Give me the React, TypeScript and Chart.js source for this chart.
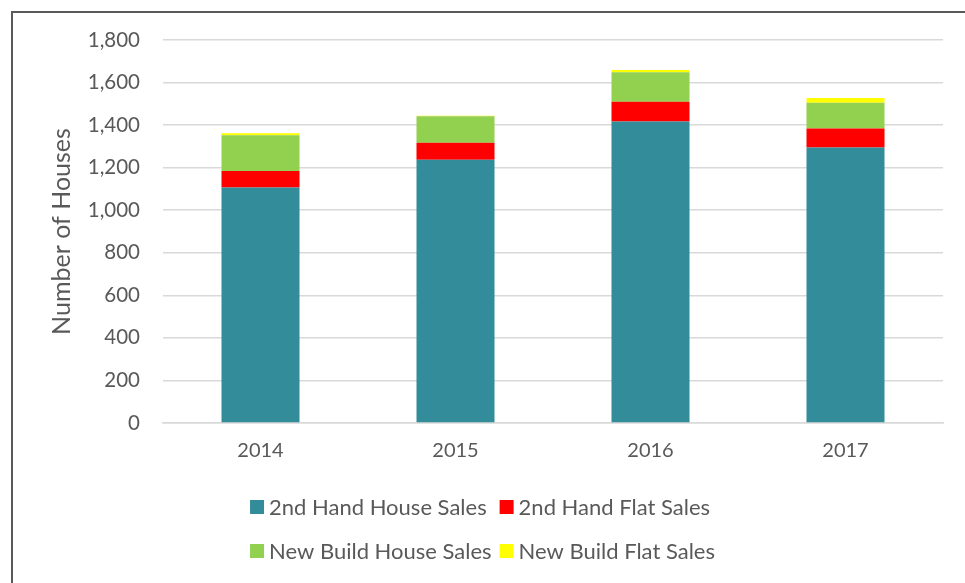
import React, { useEffect, useRef } from "react";
import { Chart, registerables } from "chart.js";

Chart.register(...registerables);

const categories = ["2014", "2015", "2016", "2017"];
const secondHandHouse = [1107, 1237, 1417, 1295];
const secondHandFlat = [77, 80, 93, 89];
const newBuildHouse = [168, 125, 139, 121];
const newBuildFlat = [10, 2, 10, 22];
const seriesNames = [
  "2nd Hand House Sales",
  "2nd Hand Flat Sales",
  "New Build House Sales",
  "New Build Flat Sales",
];
const seriesColors = ["#338c99", "#ff0000", "#92d050", "#ffff00"];

const FONT = "Lato, 'Open Sans', sans-serif";
const TEXT = "#595959";

const gridLegend = {
  id: "gridLegend",
  afterDraw(chart: any) {
    const ctx = chart.ctx;
    const ds = chart.data.datasets;
    ctx.save();
    ctx.font = `22px ${FONT}`;
    ctx.textBaseline = "middle";
    ctx.textAlign = "left";
    const box = 14;
    const gapText = 5;
    const colGap = 8;
    const w = ds.map((d: any) => box + gapText + ctx.measureText(d.label).width);
    const col1 = Math.max(w[0], w[2]);
    const col2 = Math.max(w[1], w[3]);
    const total = col1 + colGap + col2;
    const startX = chart.width / 2 - total / 2;
    const rowsY = [chart.chartArea.bottom + 84, chart.chartArea.bottom + 128];
    ds.forEach((d: any, i: number) => {
      const row = Math.floor(i / 2);
      const col = i % 2;
      const x = col === 0 ? startX : startX + col1 + colGap;
      const y = rowsY[row];
      ctx.fillStyle = d.backgroundColor;
      ctx.fillRect(x, y - box / 2, box, box);
      ctx.fillStyle = TEXT;
      ctx.fillText(d.label, x + box + gapText, y + 1);
    });
    ctx.restore();
  },
};

export default function App() {
  const canvasRef = useRef<HTMLCanvasElement | null>(null);

  useEffect(() => {
    document.body.style.margin = "0";
    const canvas = canvasRef.current;
    if (!canvas) return;
    const values = [secondHandHouse, secondHandFlat, newBuildHouse, newBuildFlat];
    const chart = new Chart(canvas, {
      type: "bar",
      data: {
        labels: categories,
        datasets: values.map((v, i) => ({
          label: seriesNames[i],
          data: v,
          backgroundColor: seriesColors[i],
          borderWidth: 0,
          categoryPercentage: 1,
          barPercentage: 0.4,
        })),
      },
      options: {
        animation: false,
        responsive: false,
        maintainAspectRatio: false,
        events: [],
        layout: { padding: { left: 43, right: 22, top: 40, bottom: 120 } },
        plugins: {
          legend: { display: false },
          tooltip: { enabled: false },
          title: { display: false },
        },
        scales: {
          x: {
            stacked: true,
            grid: { display: false, drawTicks: false },
            border: { display: true, color: "#d9d9d9", width: 1.5 },
            ticks: {
              color: TEXT,
              font: { family: FONT, size: 20 },
              padding: 16,
            },
            afterFit: (scale: any) => {
              scale.height = 40;
            },
          },
          y: {
            stacked: true,
            min: 0,
            max: 1800,
            grid: { color: "#d9d9d9", lineWidth: 1.5, drawTicks: false },
            border: { display: false },
            ticks: {
              stepSize: 200,
              color: TEXT,
              padding: 23,
              font: { family: FONT, size: 20.5 },
              callback: (v: any) => Number(v).toLocaleString("en-US"),
            },
            title: {
              display: true,
              text: "Number of Houses",
              color: TEXT,
              font: { family: FONT, size: 25 },
              padding: { top: 4, bottom: 4 },
            },
            afterFit: (scale: any) => {
              scale.width = 120;
            },
          },
        },
      },
      plugins: [gridLegend],
    });
    return () => chart.destroy();
  }, []);

  return (
    <div style={{ position: "relative", width: 965, height: 583, overflow: "hidden", background: "#fff" }}>
      <div
        style={{
          position: "absolute",
          left: 11,
          top: 11,
          width: 970,
          height: 590,
          border: "2px solid #595959",
          boxSizing: "border-box",
        }}
      />
      <canvas ref={canvasRef} width={965} height={583} style={{ position: "absolute", left: 0, top: 0 }} />
    </div>
  );
}
